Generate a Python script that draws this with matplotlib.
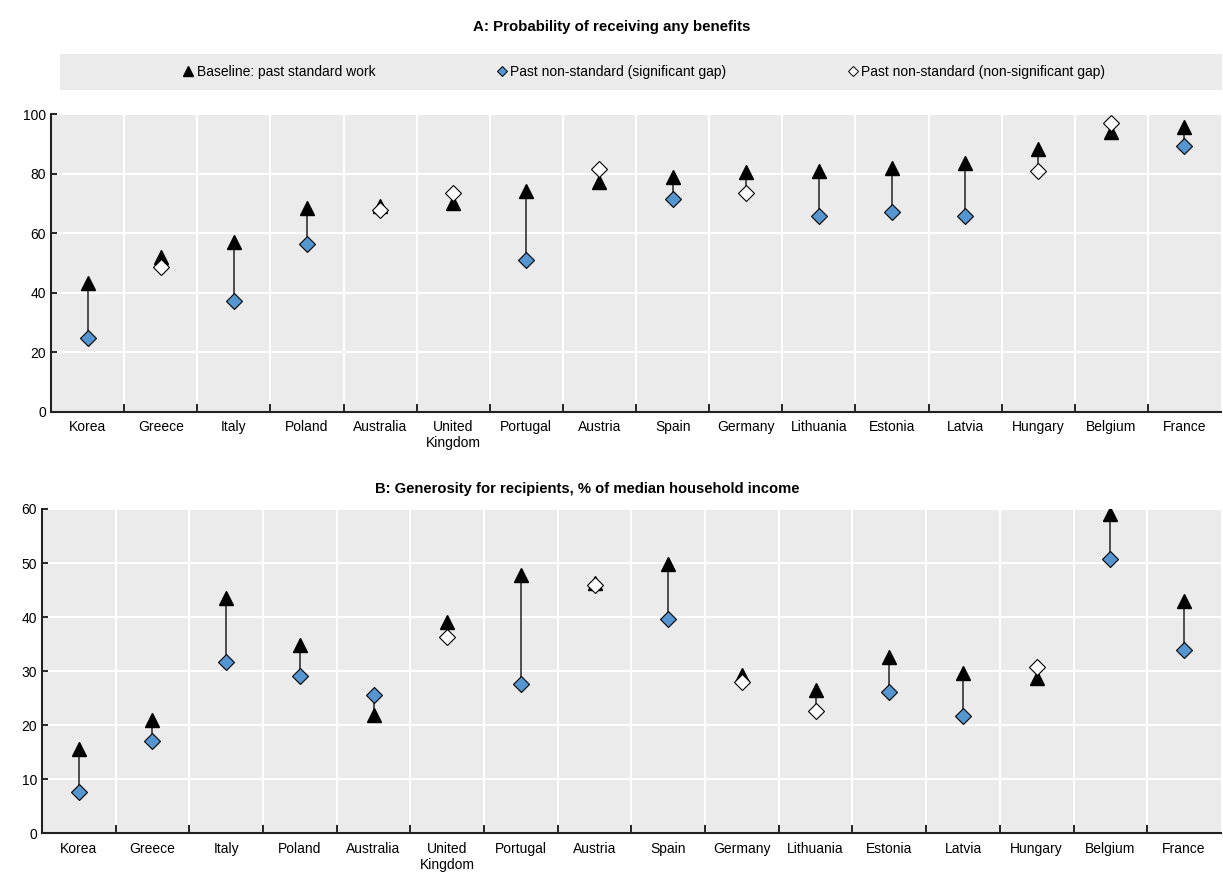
import matplotlib
matplotlib.use("Agg")
import matplotlib.pyplot as plt
from matplotlib.lines import Line2D
from matplotlib.patches import Rectangle
import numpy as np

plt.rcParams['font.family'] = ['Liberation Sans', 'DejaVu Sans']

paises = ["Korea", "Greece", "Italy", "Poland", "Australia", "United\nKingdom",
          "Portugal", "Austria", "Spain", "Germany", "Lithuania", "Estonia",
          "Latvia", "Hungary", "Belgium", "France"]

# Panel A: probabilidad de recibir prestaciones
base_a = [43.4, 52.0, 57.0, 68.5, 69.1, 70.2, 74.2, 77.3, 78.9, 80.6, 80.9, 81.7, 83.4, 88.2, 94.1, 95.7]
noest_a = [24.6, 48.7, 37.2, 56.3, 67.8, 73.6, 51.0, 81.5, 71.3, 73.6, 65.7, 67.2, 65.7, 80.9, 96.9, 89.2]
sig_a = [True, False, True, True, False, False, True, False, True, False, True, True, True, False, False, True]

# Panel B: generosidad, % de la renta mediana
base_b = [15.65, 20.9, 43.5, 34.8, 21.9, 39.1, 47.8, 46.3, 49.8, 29.3, 26.5, 32.6, 29.6, 28.7, 59.1, 42.9]
noest_b = [7.6, 17.1, 31.6, 29.1, 25.5, 36.3, 27.6, 45.9, 39.7, 28.05, 22.6, 26.1, 21.7, 30.8, 50.8, 33.9]
sig_b = [True, True, True, True, True, False, True, False, True, False, False, True, True, False, True, True]

azul = "#5596D0"
fondo = "#EBEBEB"

fig = plt.figure(figsize=(12.23, 8.73), dpi=100)
ax_a = fig.add_axes([0.0417, 0.5284, 0.9567, 0.341])
ax_b = fig.add_axes([0.0343, 0.0455, 0.964, 0.3715])


def dibujar(ax, base, noest, sig, ymax, paso):
    x = np.arange(len(paises))
    ax.set_facecolor(fondo)
    ax.vlines(x, noest, base, color="#333333", lw=1.2, zorder=2)
    ax.plot(x, base, ls="none", marker="^", ms=9.5, color="black", zorder=3)
    s = np.array(sig)
    ax.plot(x[s], np.array(noest)[s], ls="none", marker="D", ms=7.8, mfc=azul,
            mec="black", mew=0.8, zorder=4)
    ax.plot(x[~s], np.array(noest)[~s], ls="none", marker="D", ms=7.8, mfc="white",
            mec="black", mew=0.8, zorder=4)
    ax.set_xlim(-0.5, len(paises) - 0.5)
    ax.set_ylim(0, ymax)
    ax.set_yticks(np.arange(0, ymax + 1, paso))
    ax.set_xticks(x)
    ax.set_xticklabels(paises, fontsize=10)
    ax.set_xticks(np.arange(0.5, len(paises) - 0.5), minor=True)
    ax.tick_params(axis="x", which="major", length=0, pad=6)
    ax.tick_params(axis="x", which="minor", length=6, width=1.2, direction="in")
    ax.tick_params(axis="y", length=4, width=1.2, direction="in", labelsize=10)
    ax.grid(axis="y", color="white", lw=1.5)
    ax.grid(axis="x", which="minor", color="white", lw=1.5)
    ax.set_axisbelow(True)
    for lado in ["top", "right"]:
        ax.spines[lado].set_visible(False)
    for lado in ["left", "bottom"]:
        ax.spines[lado].set_linewidth(1.5)
        ax.spines[lado].set_color("#222222")


dibujar(ax_a, base_a, noest_a, sig_a, 100, 20)
dibujar(ax_b, base_b, noest_b, sig_b, 60, 10)

fig.text(0.5004, 0.969, "A: Probability of receiving any benefits", ha="center",
         va="center", fontsize=10.8, fontweight="bold")
fig.text(0.48, 0.44, "B: Generosity for recipients, % of median household income",
         ha="center", va="center", fontsize=10.6, fontweight="bold")

# Recuadro de la leyenda
fig.patches.append(Rectangle((0.049, 0.897), 0.95, 0.041, transform=fig.transFigure,
                             facecolor=fondo, edgecolor="none", zorder=0))
manejadores = [
    Line2D([], [], ls="none", marker="^", ms=7, color="black"),
    Line2D([], [], ls="none", marker="D", ms=5, mfc=azul, mec="black", mew=0.7),
    Line2D([], [], ls="none", marker="D", ms=5, mfc="white", mec="black", mew=0.7),
]
etiquetas = ["Baseline: past standard work", "Past non-standard (significant gap)",
             "Past non-standard (non-significant gap)"]
fig.legend(manejadores, etiquetas, loc="center", bbox_to_anchor=(0.527, 0.9175),
           ncol=3, frameon=False, fontsize=10, handlelength=0.6, handletextpad=0.3,
           columnspacing=8.8)

fig.savefig("out.png", dpi=100)
